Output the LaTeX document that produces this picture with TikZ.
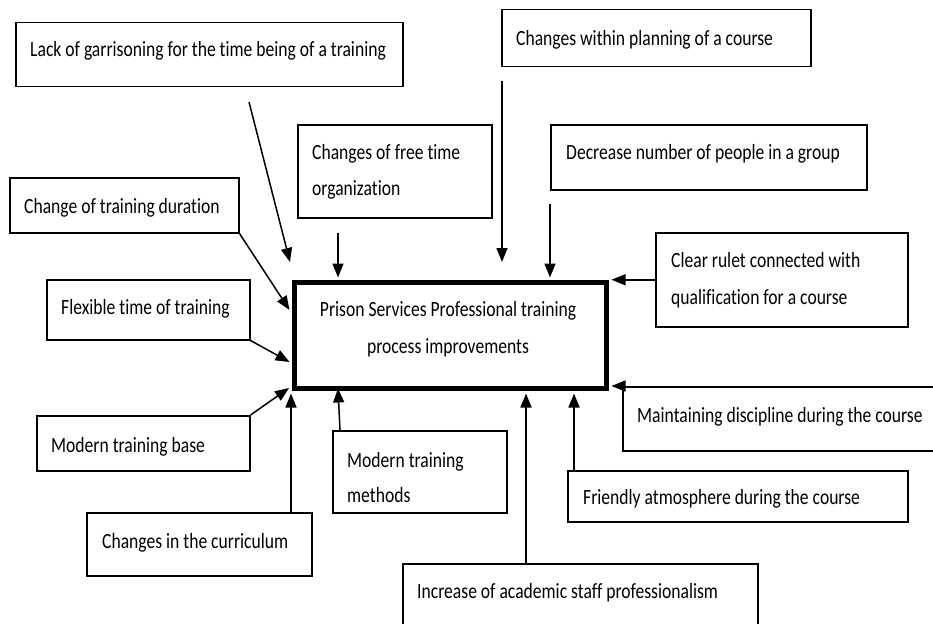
\documentclass[tikz,border=0pt]{standalone}
\usepackage{fontspec}
\setmainfont{Carlito}[FakeStretch=0.81,Ligatures=NoCommon]
\usetikzlibrary{arrows.meta,calc}

\begin{document}
\begin{tikzpicture}[x=1pt,y=-1pt,
  box/.style={draw, line width=1.5pt, inner sep=0pt, anchor=north west},
  mainbox/.style={draw, line width=5pt, inner sep=0pt, anchor=north west},
  lbl/.style={inner sep=0pt, anchor=base west, font=\fontsize{21.7}{37}\selectfont},
  clbl/.style={lbl, anchor=base},
  arr/.style={line width=1.5pt, -{Triangle[length=14pt,width=11pt]}},
  arrb/.style={arr, shorten >=2.5pt}]
\useasboundingbox (0,0) rectangle (933,623);
\fill[white] (0,0) rectangle (933,623);
\clip (0,0) rectangle (933,623);

% central box
\node[mainbox, minimum width=312pt, minimum height=106pt] (c) at (292,280) {};
\node[clbl] (tc)  at (448,316) {Prison Services Professional training};
\node[clbl] (tcb) at (448,353) {process improvements};

% surrounding factor boxes
\node[box, minimum width=387pt, minimum height=64pt] (b1)  at (15,22)  {};
\node[box, minimum width=309pt, minimum height=57pt] (b2)  at (501,9)  {};
\node[box, minimum width=194pt, minimum height=93pt] (b3)  at (297,124) {};
\node[box, minimum width=316pt, minimum height=65pt] (b4)  at (550,124) {};
\node[box, minimum width=229pt, minimum height=55pt] (b5)  at (9,177)  {};
\node[box, minimum width=252pt, minimum height=94pt] (b6)  at (655,232) {};
\node[box, minimum width=203pt, minimum height=60pt] (b7)  at (46,279) {};
\node[box, minimum width=330pt, minimum height=64pt] (b9)  at (622,386) {};
\node[box, minimum width=213pt, minimum height=55pt] (b10) at (36,415) {};
\node[box, minimum width=174pt, minimum height=82pt] (b11) at (332,430) {};
\node[box, minimum width=340pt, minimum height=51pt] (b12) at (567,470) {};
\node[box, minimum width=225pt, minimum height=63pt] (b13) at (86,512) {};
\node[box, minimum width=355pt, minimum height=80pt] (b14) at (402,563) {};

% box texts
\node[lbl] (t1)   at (30,57)   {Lack of garrisoning for the time being of a training};
\node[lbl] (t2)   at (516,46)  {Changes within planning of a course};
\node[lbl] (t3)   at (312,159) {Changes of free time};
\node[lbl] (t3b)  at (312,195) {organization};
\node[lbl] (t4)   at (566,159) {Decrease number of people in a group};
\node[lbl] (t5)   at (24,213)  {Change of training duration};
\node[lbl] (t6)   at (671,267) {Clear rulet connected with};
\node[lbl] (t6b)  at (671,304) {qualification for a course};
\node[lbl] (t7)   at (61,314)  {Flexible time of training};
\node[lbl] (t9)   at (637,422) {Maintaining discipline during the course};
\node[lbl] (t10)  at (51,452)  {Modern training base};
\node[lbl] (t11)  at (347,467) {Modern training};
\node[lbl] (t11b) at (347,502) {methods};
\node[lbl] (t12)  at (583,504) {Friendly atmosphere during the course};
\node[lbl] (t13)  at (102,548) {Changes in the curriculum};
\node[lbl] (t14)  at (417,598) {Increase of academic staff professionalism};

% connector end points
\coordinate (s1)  at (249,102);
\coordinate (e1)  at (290,262);
\coordinate (s2)  at (502,81);
\coordinate (e2)  at (502,262);
\coordinate (s3)  at (338,233);
\coordinate (s4)  at (550,204);
\coordinate (e5)  at (289.5,310);
\coordinate (e7)  at (289.5,362);
\coordinate (e10) at (289,388);
\coordinate (s11) at ($(b11.north west)+(8,0)$);
\coordinate (e11) at (338,388.5);
\coordinate (s12) at ($(b12.north west)+(7,0)$);
\coordinate (s13) at ($(b13.north west)+(205,0)$);
\coordinate (s14) at ($(b14.north west)+(124,0)$);

% connectors
\draw[arr]  (s1) -- (e1);
\draw[arr]  (s2) -- (e2);
\draw[arrb] (s3) -- (s3 |- c.north);
\draw[arrb] (s4) -- (s4 |- c.north);
\draw[arr]  (b5.south east) -- (e5);
\draw[arrb] (b6.west) -- (b6.west -| c.east);
\draw[arr]  (b7.south east) -- (e7);
\draw[arrb] (b9.north west) -- (b9.north west -| c.east);
\draw[arr]  (b10.north east) -- (e10);
\draw[arr]  (s11) -- (e11);
\draw[arrb] (s12) -- (s12 |- c.south);
\draw[arrb] (s13) -- (s13 |- c.south);
\draw[arrb] (s14) -- (s14 |- c.south);
\end{tikzpicture}
\end{document}
